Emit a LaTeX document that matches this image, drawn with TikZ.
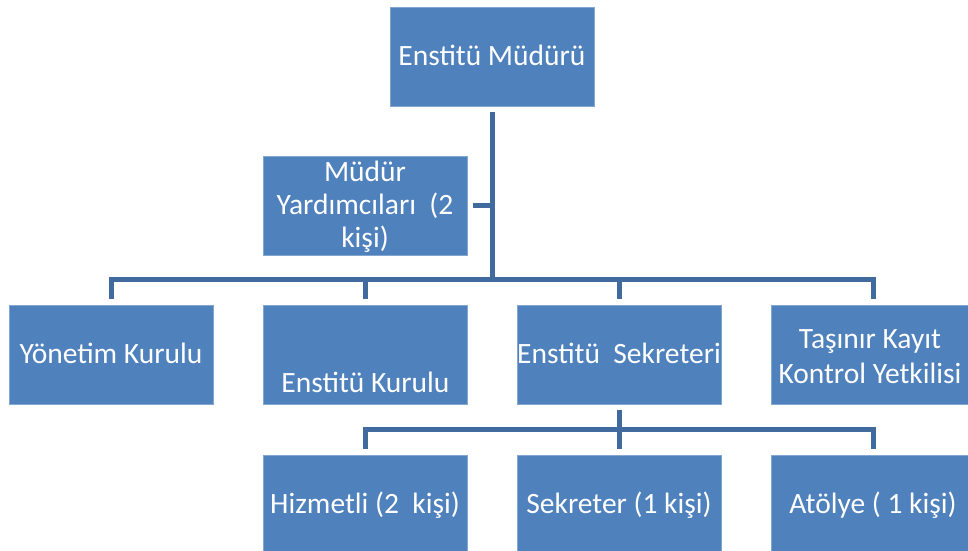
\documentclass[tikz,border=0pt]{standalone}
\usepackage{fontspec}
\setmainfont{Carlito}
\definecolor{boxblue}{HTML}{4F81BD}
\definecolor{lineblue}{HTML}{416A9E}
\begin{document}
\begin{tikzpicture}[x=1pt,y=-1pt,
  orgbox/.style={rectangle,fill=boxblue,draw=boxblue!70!white,line width=0.6pt,minimum width=204pt,minimum height=99pt,inner sep=0pt},
  txt/.style={text=white,inner sep=0pt,font=\fontsize{29.5}{33}\selectfont,align=center},
  conn/.style={draw=lineblue,line width=5pt,line join=miter,line cap=butt}]
\useasboundingbox (0,0) rectangle (968,550);
% boxes
\node[orgbox] (top) at (492,56.5) {};
\node[orgbox] (yard) at (365,205.5) {};
\node[orgbox] (yon) at (111,354.5) {};
\node[orgbox] (kur) at (365.5,354.5) {};
\node[orgbox] (sek) at (619,354.5) {};
\node[orgbox] (tas) at (873,354.5) {};
\node[orgbox] (hiz) at (365,504.5) {};
\node[orgbox] (skr) at (619,504.5) {};
\node[orgbox] (ato) at (873,504.5) {};
% texts
\node[txt,anchor=base] (ttop) at (492,65) {Enstitü Müdürü};
\node[txt] (tyard) at (365,207) {Müdür\\Yardımcıları~ (2\\kişi)};
\node[txt,anchor=base] (tyon) at (111,363) {Yönetim Kurulu};
\node[txt,anchor=base] (tkur) at (365.5,392) {Enstitü Kurulu};
\node[txt,anchor=base] (tsek) at (619,363) {Enstitü~ Sekreteri};
\node[txt,font=\fontsize{29.5}{35}\selectfont] (ttas) at (870,357) {Taşınır Kayıt\\Kontrol Yetkilisi};
\node[txt,anchor=base] (thiz) at (365,513) {Hizmetli (2~ kişi)};
\node[txt,anchor=base] (tskr) at (619,513) {Sekreter (1 kişi)};
\node[txt,anchor=base] (tato) at (873,513) {Atölye ( 1 kişi)};
% connectors
\coordinate (J) at (492,279);
\coordinate (K) at (619,429);
\draw[conn] ([yshift=-6pt]top.south) -- (J);
\draw[conn] ([xshift=6pt]yard.east) -- (yard.east -| top.south);
\draw[conn] ([yshift=6pt]yon.north) |- (J) -| ([yshift=6pt]tas.north);
\draw[conn] (kur.north |- J) -- ([yshift=6pt]kur.north);
\draw[conn] (sek.north |- J) -- ([yshift=6pt]sek.north);
\draw[conn] ([yshift=-6pt]sek.south) -- ([yshift=6pt]skr.north);
\draw[conn] ([yshift=6pt]hiz.north) |- (K) -| ([yshift=6pt]ato.north);
\end{tikzpicture}
\end{document}
